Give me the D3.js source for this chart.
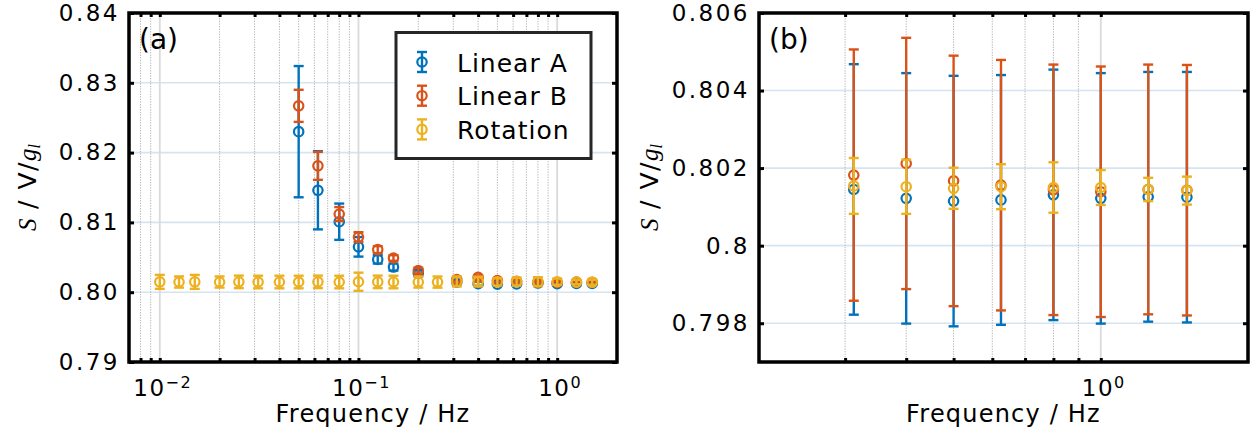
<!DOCTYPE html>
<meta charset="utf-8">
<script src="https://d3js.org/d3.v7.min.js"></script>
<style>
  body { margin: 0; background: #fff; }
  svg { font-family: "DejaVu Sans", sans-serif; }
  .tick text { font-family: "DejaVu Sans", sans-serif; font-size: 23px; letter-spacing: 2.5px; fill: #000; }
</style>
<body>
<div id="chart"></div>
<script>
// frequencies (Hz)
const freqRot = [0.01, 0.0125, 0.015, 0.02, 0.025, 0.03125, 0.04, 0.05, 0.0625, 0.08, 0.1, 0.125, 0.15, 0.2, 0.25, 0.3125, 0.4, 0.5, 0.625, 0.8, 1, 1.25, 1.5];
const freqLin = [0.05, 0.0625, 0.08, 0.1, 0.125, 0.15, 0.2, 0.3125, 0.4, 0.5, 0.625, 0.8, 1, 1.25, 1.5];

// sensitivity S (V/g_l) and uncertainties, panel (a)
const linA    = [0.8230, 0.8146, 0.8101, 0.8065, 0.8047, 0.8036, 0.8027, 0.80145, 0.80122, 0.80115, 0.80118, 0.80131, 0.80122, 0.80126, 0.80125];
const linAErr = [0.0094, 0.0056, 0.0026, 0.0014, 0.0006, 0.0005, 0.0004, 0.0003, 0.0003, 0.0002, 0.0002, 0.0002, 0.0002, 0.0002, 0.0002];
const linB    = [0.8267, 0.8181, 0.8112, 0.8079, 0.8061, 0.8049, 0.8031, 0.80182, 0.80212, 0.80167, 0.80156, 0.80144, 0.80139, 0.80145, 0.80143];
const linBErr = [0.0023, 0.0020, 0.0010, 0.0007, 0.0005, 0.0004, 0.0004, 0.0003, 0.0003, 0.0002, 0.0002, 0.0002, 0.0002, 0.0002, 0.0002];
const rot     = [0.80148, 0.80146, 0.80148, 0.80146, 0.80148, 0.80146, 0.80146, 0.80146, 0.80148, 0.80146, 0.80150, 0.80148, 0.80146, 0.80146, 0.80145, 0.80154, 0.80152, 0.80148, 0.80152, 0.80150, 0.80150, 0.80145, 0.80142];
const rotErr  = [0.0010, 0.0008, 0.0010, 0.0008, 0.0009, 0.0009, 0.0009, 0.0009, 0.0009, 0.0009, 0.0013, 0.0009, 0.0009, 0.0008, 0.0008, 0.00072, 0.00070, 0.00053, 0.00058, 0.00065, 0.00045, 0.00030, 0.00036];

// panel (b): high-frequency points with full uncertainties
const freqB = [0.3125, 0.4, 0.5, 0.625, 0.8, 1, 1.25, 1.5];
const bAErr = [0.00323, 0.00323, 0.00323, 0.00322, 0.00323, 0.00323, 0.00322, 0.00323];
const bBErr = [0.00324, 0.00324, 0.00323, 0.00323, 0.00323, 0.00323, 0.00322, 0.00323];

const yTicksA = [0.79, 0.80, 0.81, 0.82, 0.83, 0.84];
const yLabelsA = ["0.79", "0.80", "0.81", "0.82", "0.83", "0.84"];
const yTicksB = [0.798, 0.8, 0.802, 0.804, 0.806];
const yLabelsB = ["0.798", "0.8", "0.802", "0.804", "0.806"];

const seriesNames = ["Linear A", "Linear B", "Rotation"];
const colors = ["#0072BD", "#D95319", "#EDB120"];

const width = 1255, height = 431;
const svg = d3.select("#chart").append("svg")
  .attr("width", width).attr("height", height);

function makeSeries(freqs, vals, errs) {
  return freqs.map((f, i) => ({f: f, v: vals[i], e: errs[i]}));
}

const nB = freqB.length;
const panels = [
  {
    left: 129, right: 617, top: 13, bottom: 362,
    xDom: [0.007, 2], yDom: [0.79, 0.84],
    yTicks: yTicksA, yLabels: yLabelsA,
    xMajor: [0.01, 0.1, 1],
    xMinor: [0.008, 0.009, 0.02, 0.03, 0.04, 0.05, 0.06, 0.07, 0.08, 0.09, 0.2, 0.3, 0.4, 0.5, 0.6, 0.7, 0.8, 0.9],
    tag: "(a)", ylabX: 36,
    series: [
      makeSeries(freqLin, linA, linAErr),
      makeSeries(freqLin, linB, linBErr),
      makeSeries(freqRot, rot, rotErr)
    ],
    legend: true
  },
  {
    left: 759, right: 1248, top: 13, bottom: 362,
    xDom: [0.2, 2], yDom: [0.797, 0.806],
    yTicks: yTicksB, yLabels: yLabelsB,
    xMajor: [1],
    xMinor: [0.3, 0.4, 0.5, 0.6, 0.7, 0.8, 0.9],
    tag: "(b)", ylabX: 658,
    series: [
      makeSeries(freqB, linA.slice(-nB), bAErr),
      makeSeries(freqB, linB.slice(-nB), bBErr),
      makeSeries(freqB, rot.slice(-nB), rotErr.slice(-nB))
    ],
    legend: false
  }
];

const expo = {"0.01": "\u22122", "0.1": "\u22121", "1": "0"};

panels.forEach(p => {
  const x = d3.scaleLog().domain(p.xDom).range([p.left, p.right]);
  const y = d3.scaleLinear().domain(p.yDom).range([p.bottom, p.top]);
  const g = svg.append("g");

  // horizontal grid
  g.selectAll(".hgrid").data(p.yTicks).enter().append("line")
    .attr("x1", p.left).attr("x2", p.right)
    .attr("y1", d => y(d)).attr("y2", d => y(d))
    .attr("stroke", "#d5e4f0").attr("stroke-width", 1.6);
  // vertical grid
  g.selectAll(".vminor").data(p.xMinor).enter().append("line")
    .attr("x1", d => x(d)).attr("x2", d => x(d))
    .attr("y1", p.top).attr("y2", p.bottom)
    .attr("stroke", "#b4b4b4").attr("stroke-width", 1)
    .attr("stroke-dasharray", "1.3,1.3");
  g.selectAll(".vmajor").data(p.xMajor).enter().append("line")
    .attr("x1", d => x(d)).attr("x2", d => x(d))
    .attr("y1", p.top).attr("y2", p.bottom)
    .attr("stroke", "#dadada").attr("stroke-width", 1.8);

  // data: error bars then markers, series in order
  p.series.forEach((s, k) => {
    const sg = g.append("g").attr("stroke", colors[k]).attr("fill", "none");
    const eb = sg.selectAll("g").data(s).enter().append("g");
    eb.append("line")
      .attr("x1", d => x(d.f)).attr("x2", d => x(d.f))
      .attr("y1", d => y(d.v - d.e)).attr("y2", d => y(d.v + d.e))
      .attr("stroke-width", 2.4);
    [-1, 1].forEach(sgn => {
      eb.append("line")
        .attr("x1", d => x(d.f) - 5).attr("x2", d => x(d.f) + 5)
        .attr("y1", d => y(d.v + sgn * d.e)).attr("y2", d => y(d.v + sgn * d.e))
        .attr("stroke-width", 2.4);
    });
    eb.append("circle")
      .attr("cx", d => x(d.f)).attr("cy", d => y(d.v))
      .attr("r", 4.7).attr("stroke-width", 2.2);
  });

  // axes with inward ticks
  const yl = g.append("g").attr("transform", `translate(${p.left},0)`)
    .call(d3.axisLeft(y).tickValues(p.yTicks).tickFormat((d, i) => p.yLabels[i])
      .tickSize(-5).tickPadding(9));
  const yr = g.append("g").attr("transform", `translate(${p.right},0)`)
    .call(d3.axisRight(y).tickValues(p.yTicks).tickFormat("").tickSize(-5));
  const allX = p.xMajor.concat(p.xMinor);
  const xb = g.append("g").attr("transform", `translate(0,${p.bottom})`)
    .call(d3.axisBottom(x).tickValues(allX).tickFormat("").tickSize(-4));
  const xt = g.append("g").attr("transform", `translate(0,${p.top})`)
    .call(d3.axisTop(x).tickValues(allX).tickFormat("").tickSize(-4));
  [yl, yr, xb, xt].forEach(a => {
    a.select(".domain").remove();
    a.selectAll(".tick line").attr("stroke", "#000").attr("stroke-width", 3);
  });

  // decade labels
  const xl = g.selectAll(".xlab").data(p.xMajor).enter().append("text")
    .attr("x", d => x(d) + 3).attr("y", p.bottom + 34)
    .attr("text-anchor", "middle").attr("font-size", 23)
    .attr("letter-spacing", 1.5);
  xl.append("tspan").text("10");
  xl.append("tspan").attr("font-size", 16).attr("dy", -8).text(d => expo[String(d)]);

  // frame
  g.append("rect")
    .attr("x", p.left).attr("y", p.top)
    .attr("width", p.right - p.left).attr("height", p.bottom - p.top)
    .attr("fill", "none").attr("stroke", "#000").attr("stroke-width", 3.5);

  // panel tag
  g.append("text").attr("x", p.left + 10).attr("y", 49)
    .attr("font-size", 28).text(p.tag);

  // x label
  g.append("text").attr("x", (p.left + p.right) / 2).attr("y", 422)
    .attr("text-anchor", "middle").attr("font-size", 24).attr("letter-spacing", 1.2)
    .text("Frequency / Hz");

  // y label
  const yt = g.append("text")
    .attr("transform", `translate(${p.ylabX},${(p.top + p.bottom) / 2}) rotate(-90)`)
    .attr("text-anchor", "middle").attr("font-size", 25);
  yt.append("tspan").attr("font-family", "Liberation Serif").attr("font-style", "italic").text("S");
  yt.append("tspan").attr("letter-spacing", 1.5).text(" / V/");
  yt.append("tspan").attr("font-family", "Liberation Serif").attr("font-style", "italic").text("g");
  yt.append("tspan").attr("font-family", "Liberation Serif").attr("font-style", "italic")
    .attr("font-size", 16).attr("dy", 4).text("l");

  if (p.legend) {
    const lg = g.append("g");
    lg.append("rect").attr("x", 396).attr("y", 32.5).attr("width", 195).attr("height", 126)
      .attr("fill", "#fff").attr("stroke", "#262626").attr("stroke-width", 3);
    seriesNames.forEach((name, k) => {
      const cy = 62 + k * 33.7;
      const mg = lg.append("g").attr("stroke", colors[k]).attr("fill", "none").attr("stroke-width", 2.4);
      mg.append("line").attr("x1", 422).attr("x2", 422).attr("y1", cy - 10).attr("y2", cy + 10);
      mg.append("line").attr("x1", 417).attr("x2", 427).attr("y1", cy - 10).attr("y2", cy - 10);
      mg.append("line").attr("x1", 417).attr("x2", 427).attr("y1", cy + 10).attr("y2", cy + 10);
      mg.append("circle").attr("cx", 422).attr("cy", cy).attr("r", 4.7).attr("stroke-width", 2.2);
      lg.append("text").attr("x", 457).attr("y", cy + 9.5)
        .attr("font-size", 25).attr("letter-spacing", 1).text(name);
    });
  }
});
</script>
</body>
